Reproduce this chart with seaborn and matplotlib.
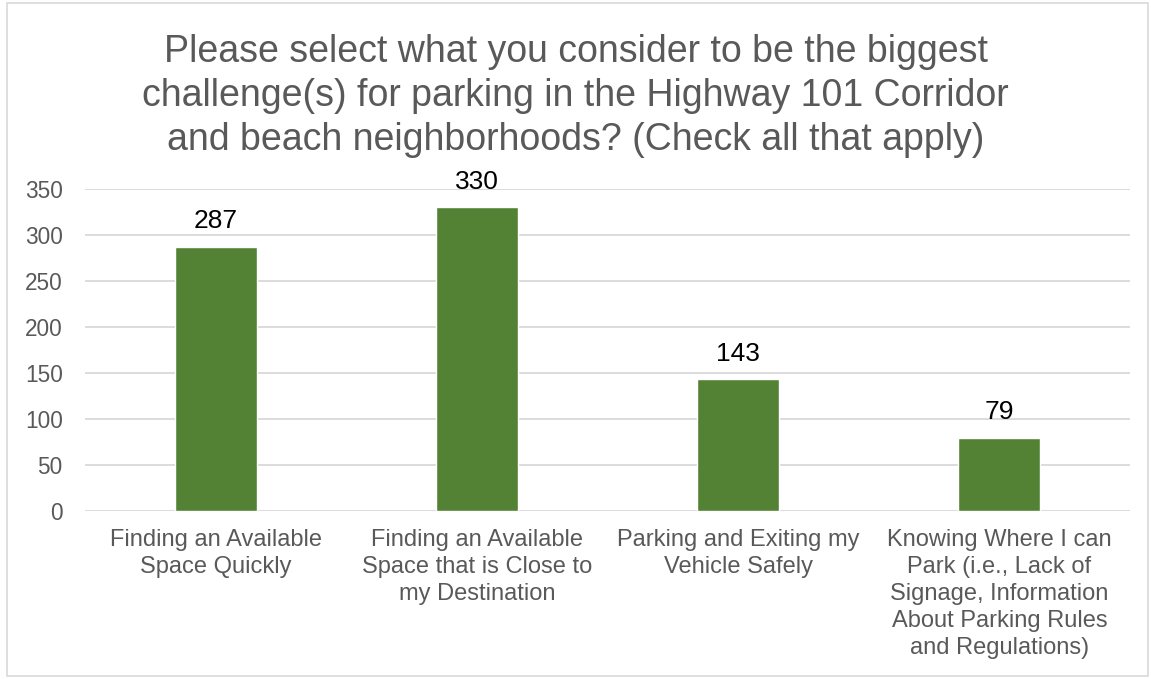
import matplotlib
matplotlib.use("Agg")
import matplotlib.pyplot as plt
import seaborn as sns
import pandas as pd
from matplotlib.patches import Rectangle

categories = [
    "Finding an Available\nSpace Quickly",
    "Finding an Available\nSpace that is Close to\nmy Destination",
    "Parking and Exiting my\nVehicle Safely",
    "Knowing Where I can\nPark (i.e., Lack of\nSignage, Information\nAbout Parking Rules\nand Regulations)",
]
values = [287, 330, 143, 79]
yticks = [0, 50, 100, 150, 200, 250, 300, 350]
title = ("Please select what you consider to be the biggest\n"
         "challenge(s) for parking in the Highway 101 Corridor\n"
         "and beach neighborhoods? (Check all that apply)")

sns.set_theme(style="white")
plt.rcParams['font.family'] = ['Liberation Sans', 'DejaVu Sans']

W, H = 1151, 679
fig = plt.figure(figsize=(W / 100, H / 100), dpi=100)
ax = fig.add_axes([85 / W, 1 - 511 / H, (1130 - 85) / W, (511 - 189) / H])

df = pd.DataFrame({"cat": categories, "val": values})
sns.barplot(data=df, x="cat", y="val", color="#548235", saturation=1,
            width=0.314, ax=ax, zorder=3)

ax.set_ylim(0, 350)
ax.set_yticks(yticks)
ax.set_yticklabels([str(t) for t in yticks], fontsize=16.3, color="#595959")
ax.tick_params(axis='x', labelsize=17, labelcolor="#595959", length=0, pad=13)
ax.tick_params(axis='y', length=0, pad=16)
for lbl in ax.get_xticklabels():
    lbl.set_linespacing(1.3)
ax.set_xlabel("")
ax.set_ylabel("")
ax.grid(axis='y', color="#D9D9D9", linewidth=1.3, zorder=0)
ax.set_axisbelow(True)
for s in ax.spines.values():
    s.set_visible(False)

for i, v in enumerate(values):
    ax.annotate(str(v), (i, v), xytext=(0, 10), textcoords="offset points",
                ha="center", va="bottom", fontsize=19, color="black")

fig.text(0.5, 1 - 96 / H, title, ha="center", va="center", fontsize=27,
         color="#595959", linespacing=1.28)

fig.patches.append(Rectangle((7 / W, 3 / H), (1148 - 7) / W, (676 - 3) / H,
                             transform=fig.transFigure, fill=False,
                             edgecolor="#D9D9D9", linewidth=1.2))

fig.savefig("out.png", dpi=100, facecolor="white")
